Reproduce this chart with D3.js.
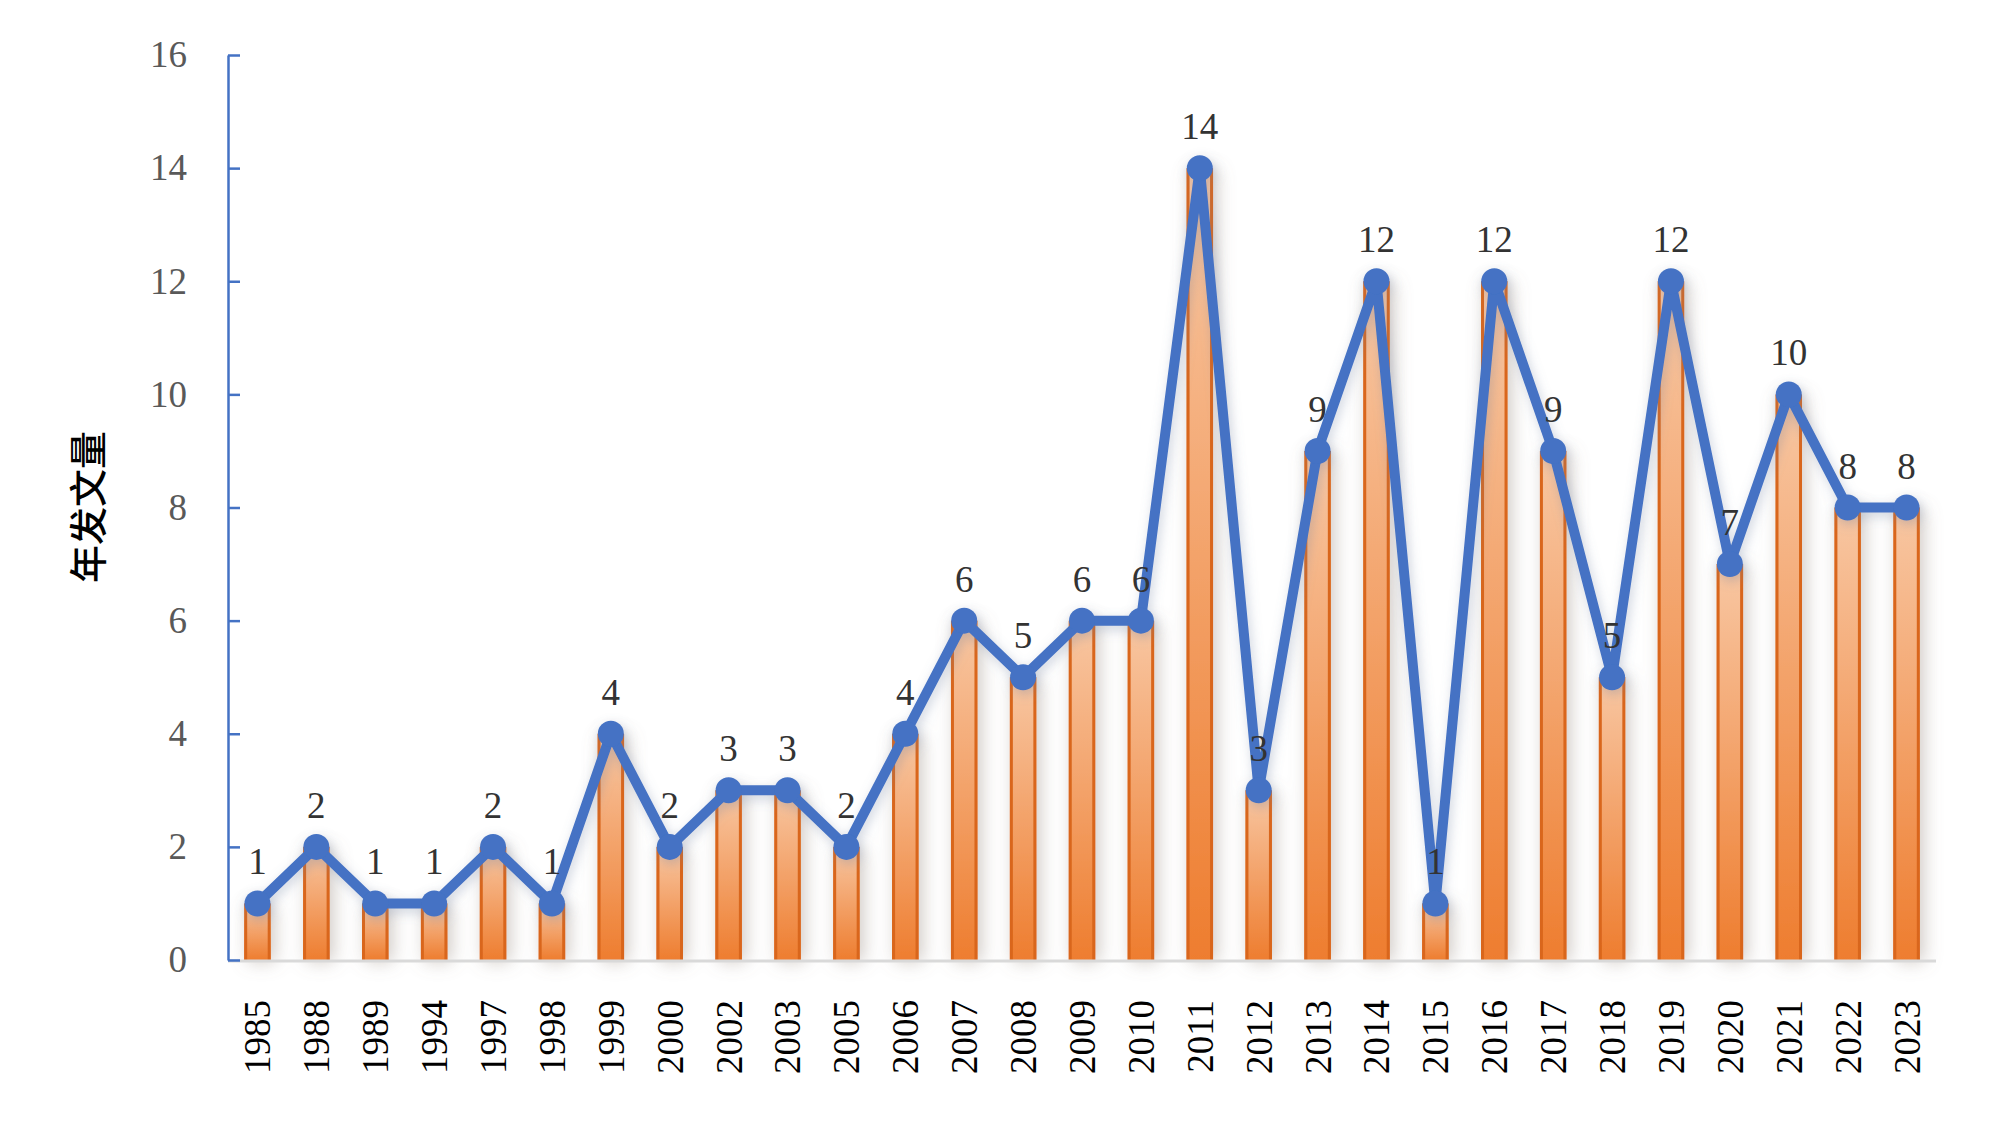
<!DOCTYPE html>
<html><head><meta charset="utf-8">
<script src="https://cdn.jsdelivr.net/npm/d3@7"></script>
<style>html,body{margin:0;padding:0;background:#fff;}</style>
</head><body>
<svg id="chart" width="1999" height="1138"></svg>
<script>
const years = ["1985","1988","1989","1994","1997","1998","1999","2000","2002","2003","2005","2006","2007","2008","2009","2010","2011","2012","2013","2014","2015","2016","2017","2018","2019","2020","2021","2022","2023"];
const counts = [1,2,1,1,2,1,4,2,3,3,2,4,6,5,6,6,14,3,9,12,1,12,9,5,12,7,10,8,8];
const yTicks = [0,2,4,6,8,10,12,14,16];
const yTitle = "年发文量";

const svg = d3.select("#chart");
const x = d3.scaleBand().domain(years).range([228, 1936]).padding(0);
const y = d3.scaleLinear().domain([0,16]).range([960, 55]);
const bw = x.bandwidth()*0.45;
const cx = d => x(d) + x.bandwidth()/2;

const defs = svg.append("defs");
const grad = defs.append("linearGradient").attr("id","barGrad").attr("x1",0).attr("y1",0).attr("x2",0).attr("y2",1);
grad.append("stop").attr("offset","0%").attr("stop-color","#f8c7a3");
grad.append("stop").attr("offset","100%").attr("stop-color","#ee7d2f");
const sh = defs.append("filter").attr("id","barShadow").attr("x","-150%").attr("y","-10%").attr("width","400%").attr("height","120%");
sh.append("feDropShadow").attr("dx",4).attr("dy",2).attr("stdDeviation",9).attr("flood-color","#8a7a70").attr("flood-opacity",0.4);
const lsh = defs.append("filter").attr("id","lineShadow").attr("x","-10%").attr("y","-10%").attr("width","120%").attr("height","130%");
lsh.append("feDropShadow").attr("dx",2).attr("dy",4).attr("stdDeviation",6).attr("flood-color","#7080a0").attr("flood-opacity",0.35);

// bars
const bars = svg.append("g").attr("filter","url(#barShadow)");
bars.selectAll("rect").data(years).join("rect")
  .attr("x", d => cx(d) - bw/2)
  .attr("y", (d,i) => y(counts[i]))
  .attr("width", bw)
  .attr("height", (d,i) => y(0) - y(counts[i]))
  .attr("fill","url(#barGrad)");
bars.selectAll("line.edge").data(years.flatMap((d,i)=>[[d,i,-1],[d,i,1]])).join("line")
  .attr("class","edge")
  .attr("x1", e => cx(e[0]) + e[2]*(bw/2 - 1.5))
  .attr("x2", e => cx(e[0]) + e[2]*(bw/2 - 1.5))
  .attr("y1", e => y(counts[e[1]]))
  .attr("y2", y(0))
  .attr("stroke","#d9661c").attr("stroke-width",3);

// x axis line
svg.append("line").attr("x1",228).attr("x2",1936).attr("y1",y(0)+1).attr("y2",y(0)+1)
  .attr("stroke","#d9d9d9").attr("stroke-width",3);

// y axis
const yAxis = svg.append("g").attr("transform","translate(228,0)")
  .call(d3.axisLeft(y).tickValues(yTicks).tickSizeInner(-12).tickSizeOuter(0).tickPadding(41));
yAxis.select(".domain").attr("stroke","#4472c4").attr("stroke-width",2.5);
yAxis.selectAll(".tick line").attr("stroke","#4472c4").attr("stroke-width",2.5);
yAxis.selectAll(".tick text").attr("fill","#595959").attr("font-family","'Liberation Serif', serif").attr("font-size",37);

// x axis labels
const xAxis = svg.append("g").attr("transform",`translate(0,${y(0)})`)
  .call(d3.axisBottom(x).tickSize(0).tickPadding(0));
xAxis.select(".domain").remove();
xAxis.selectAll(".tick text")
  .attr("transform","translate(0,40) rotate(-90)")
  .attr("text-anchor","end")
  .attr("dy","0.35em").attr("y",0).attr("x",0)
  .attr("fill","#000").attr("font-family","'Liberation Serif', serif").attr("font-size",37);

// line
const lineGen = d3.line().x(d => cx(d[0])).y(d => y(d[1]));
const pts = years.map((d,i)=>[d,counts[i]]);
const lg = svg.append("g").attr("filter","url(#lineShadow)");
lg.append("path").datum(pts).attr("d", lineGen)
  .attr("fill","none").attr("stroke","#4472c4").attr("stroke-width",10).attr("stroke-linejoin","round");
lg.selectAll("circle").data(pts).join("circle")
  .attr("cx", d => cx(d[0])).attr("cy", d => y(d[1])).attr("r",13).attr("fill","#4472c4");

// data labels
svg.append("g").selectAll("text").data(pts).join("text")
  .attr("x", d => cx(d[0])).attr("y", d => y(d[1]) - 29)
  .attr("text-anchor","middle")
  .attr("fill","#333").attr("font-family","'Liberation Serif', serif").attr("font-size",37)
  .text(d => d[1]);

// y title
svg.append("text").attr("transform","translate(89,507) rotate(-90)")
  .attr("text-anchor","middle").attr("dy","0.35em")
  .attr("font-family","'Noto Sans CJK SC', sans-serif").attr("font-size",38).attr("font-weight",500)
  .attr("fill","#000").text(yTitle);
</script>
</body></html>
